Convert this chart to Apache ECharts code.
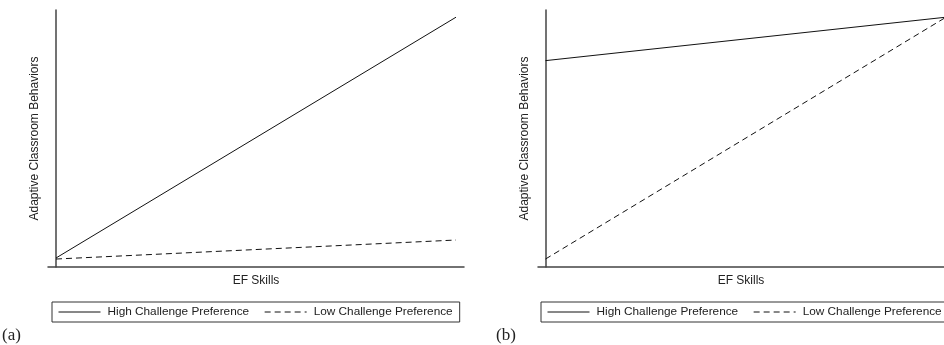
<!DOCTYPE html>
<html>
<head>
<meta charset="utf-8">
<script src="https://cdn.jsdelivr.net/npm/echarts@6/dist/echarts.min.js"></script>
<style>
html,body{margin:0;padding:0;background:#fff;}
#chart{width:944px;height:345px;}
</style>
</head>
<body>
<div id="chart"></div>
<script>
// EF Skills (low -> high), standardized 0..1
var efSkills = [0, 1];
// Panel (a)
var panelAHigh = [3.5, 97.2];
var panelALow = [3.1, 10.5];
// Panel (b)
var panelBHigh = [80.3, 97.2];
var panelBLow = [3.1, 97.2];
var seriesNames = ['High Challenge Preference', 'Low Challenge Preference'];
var panelLabels = ['(a)', '(b)'];
var xAxisTitle = 'EF Skills';
var yAxisTitle = 'Adaptive Classroom Behaviors';

function pairs(xs, ys) { return xs.map(function (x, i) { return [x, ys[i]]; }); }

var FONT = '"Liberation Sans", Arial, sans-serif';
var TXT = '#222';

function xAx(gi, mn, mx) {
  return {
    gridIndex: gi, type: 'value', min: mn, max: mx,
    name: xAxisTitle, nameLocation: 'middle', nameGap: 8,
    nameTextStyle: { fontFamily: FONT, fontSize: 12, color: TXT },
    axisLine: { show: true, lineStyle: { color: '#444', width: 1.5 } },
    axisTick: { show: false }, axisLabel: { show: false }, splitLine: { show: false }
  };
}
function yAx(gi) {
  return {
    gridIndex: gi, type: 'value', min: 0, max: 100,
    name: yAxisTitle, nameLocation: 'middle', nameGap: 7, nameRotate: 90,
    nameTextStyle: { fontFamily: FONT, fontSize: 12, color: TXT },
    axisLine: { show: true, lineStyle: { color: '#444', width: 1.5 } },
    axisTick: { show: false }, axisLabel: { show: false }, splitLine: { show: false }
  };
}
function ser(name, gi, ys, dashed) {
  return {
    name: name, type: 'line', xAxisIndex: gi, yAxisIndex: gi,
    data: pairs(efSkills, ys), symbol: 'none', showSymbol: false, silent: true,
    clip: true,
    lineStyle: { color: '#111', width: 1, type: dashed ? [6, 4] : 'solid' },
    itemStyle: { color: '#111' }, animation: false
  };
}
function leg(left, w) {
  return {
    left: left, top: 302, width: w, orient: 'horizontal',
    data: seriesNames,
    selectedMode: false,
    borderColor: '#333', borderWidth: 1, padding: [4, 7, 4, 6],
    itemWidth: 42, itemHeight: 12, itemGap: 15,
    itemStyle: { opacity: 0, color: 'rgba(0,0,0,0)', borderWidth: 0 },
    lineStyle: { opacity: 1, width: 1, color: '#111' },
    textStyle: { fontFamily: FONT, fontSize: 11.8, color: TXT, padding: [0, 0, 0, 2] }
  };
}

var chart = echarts.init(document.getElementById('chart'), null, { renderer: 'canvas' });
chart.setOption({
  animation: false,
  backgroundColor: '#fff',
  grid: [
    { left: 48, top: 10, width: 416, bottom: 78 },
    { left: 538, top: 10, right: 0, bottom: 78 }
  ],
  xAxis: [xAx(0, -0.02, 1.02), xAx(1, -0.0187, 0.995)],
  yAxis: [yAx(0), yAx(1)],
  legend: [leg(52, 600), leg(541, 600)],
  series: [
    ser(seriesNames[0], 0, panelAHigh, false),
    ser(seriesNames[1], 0, panelALow, true),
    ser(seriesNames[0], 1, panelBHigh, false),
    ser(seriesNames[1], 1, panelBLow, true)
  ],
  graphic: [
    { type: 'text', left: 2, top: 327, style: { text: panelLabels[0], font: '17px "Liberation Serif", "Times New Roman", serif', fill: TXT } },
    { type: 'text', left: 496, top: 327, style: { text: panelLabels[1], font: '17px "Liberation Serif", "Times New Roman", serif', fill: TXT } }
  ]
});
</script>
</body>
</html>
